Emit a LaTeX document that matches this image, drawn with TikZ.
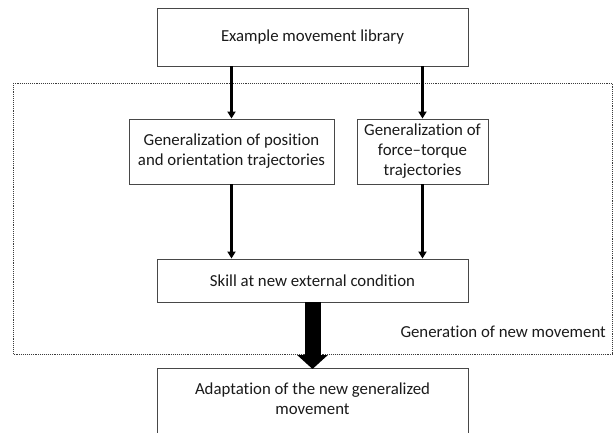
\documentclass[tikz,border=0pt]{standalone}
\usepackage{fontspec}
\setmainfont[Ligatures=NoCommon]{Carlito}
\usepackage{tikz}
\usetikzlibrary{arrows.meta,positioning}
\definecolor{Ink}{HTML}{1A1A1A}
\definecolor{Edge}{HTML}{474747}
\definecolor{Dots}{HTML}{3C3C3C}

\begin{document}
\begin{tikzpicture}[x=1pt,y=-1pt,
    box/.style={draw=Edge,line width=0.9pt,fill=white,align=center,text=Ink,
      inner sep=0pt,font=\fontsize{16.8}{20}\selectfont},
    arr/.style={-{Triangle[length=7pt,width=8pt]},line width=2.2pt,black},
    bigarr/.style={-{Triangle[length=14pt,width=30pt]},line width=16pt,black},
    frame/.style={draw=Dots,line width=0.9pt,densely dotted}
  ]
    \useasboundingbox (0,0) rectangle (614,433);
    \clip (0,0) rectangle (614,433);
    \draw[frame] (13,83) rectangle (612.5,354);
    \node[box,minimum width=311pt,minimum height=58pt] (lib) at (312.5,37) {Example movement library};
    \node[box,minimum width=205pt,minimum height=65pt] (posgen) at (231.5,151.5) {Generalization of position\\and orientation trajectories};
    \node[box,minimum width=131pt,minimum height=65pt] (ftgen) at (422.5,151.5) {Generalization of\\force--torque\\trajectories};
    \node[box,minimum width=311pt,minimum height=43pt] (skill) at (312.5,280.5) {Skill at new external condition};
    \node[box,minimum width=311pt,anchor=north,inner ysep=14pt,text depth=40pt] (adapt) at (312.5,368) {Adaptation of the new generalized\\movement};
    \node[text=Ink,inner sep=0pt,anchor=east,font=\fontsize{16.8}{20}\selectfont] (genlabel) at (606,332) {Generation of new movement};
    \foreach \n in {posgen,ftgen}{
      \draw[arr] (\n |- lib.south) -- (\n);
      \draw[arr] (\n) -- (\n |- skill.north);
    }
    \draw[bigarr] (skill) -- ([yshift=-1pt]adapt.north);
  \end{tikzpicture}
\end{document}
